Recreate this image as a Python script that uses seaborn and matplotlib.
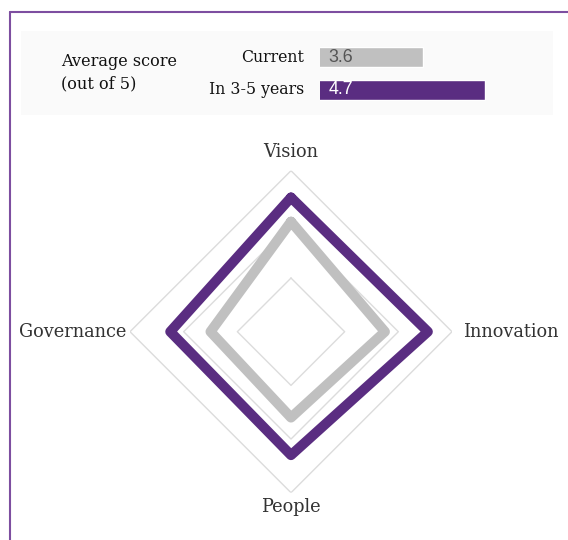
import numpy as np
import pandas as pd
import matplotlib
matplotlib.use("Agg")
import matplotlib.pyplot as plt
from matplotlib.lines import Line2D
from matplotlib.patches import Rectangle
import matplotlib.transforms as mtransforms
import seaborn as sns

# ---- data ----
dimensions = ["Vision", "Innovation", "People", "Governance"]
current_scores = [4.05, 3.75, 3.6, 3.5]
future_scores = [4.5, 4.55, 4.3, 4.25]
series_names = ["Current", "In 3-5 years"]
average_scores = [3.6, 4.7]
grid_levels = [3, 4, 5]

PURPLE = "#5a2d81"
GREY = "#c0c0c0"
TEXT = "#333333"

sns.set_theme(style="white")
plt.rcParams["font.family"] = ["DejaVu Serif"]

W, H = 568, 540
fig = plt.figure(figsize=(W / 100, H / 100), dpi=100)
fig.patch.set_facecolor("white")


def fx(px):
    return px / W


def fy(py):
    return 1 - py / H


# frame lines (left and top)
fig.add_artist(Line2D([fx(10), fx(10)], [fy(11.5), 0], color="#7d4ea0", lw=1.5))
fig.add_artist(Line2D([fx(10), 1], [fy(11.5), fy(11.5)], color="#7d4ea0", lw=1.5))

# light summary panel
fig.add_artist(Rectangle((fx(21), fy(115)), fx(553) - fx(21), fy(31) - fy(115),
                         transform=fig.transFigure, facecolor="#fafafa",
                         edgecolor="none", zorder=0))

fig.text(fx(61), fy(62), "Average score", ha="left", va="center",
         fontsize=11.6, color="#111111")
fig.text(fx(61), fy(84), "(out of 5)", ha="left", va="center",
         fontsize=11.6, color="#111111")

# ---- average score bars ----
bar_ax = fig.add_axes([fx(320), fy(106.5), fx(540) - fx(320), fy(40.5) - fy(106.5)])
bar_df = pd.DataFrame({"series": series_names, "score": average_scores})
sns.barplot(data=bar_df, x="score", y="series", hue="series",
            palette=[GREY, PURPLE], width=0.6, orient="h", legend=False,
            ax=bar_ax, saturation=1)
bar_ax.set_xlim(1.76, 5.68)
bar_ax.set_ylim(1.5, -0.5)
bar_ax.axis("off")
blend = mtransforms.blended_transform_factory(bar_ax.transAxes, bar_ax.transData)
for i, (name, val) in enumerate(zip(series_names, average_scores)):
    bar_ax.text(0.037, i, f"{val:.1f}", transform=blend, ha="left", va="center",
                fontsize=12.8, family=["Liberation Sans", "DejaVu Sans"],
                color="#555555" if i == 0 else "white")
    fig.text(fx(304), fy(57 + 33 * i), name, ha="right", va="center",
             fontsize=11.3, color="#111111")

# ---- radar ----
ax = fig.add_axes([fx(130), fy(492.7), fx(452) - fx(130), fy(170.7) - fy(492.7)],
                  projection="polar")
ax.set_theta_offset(np.pi / 2)
ax.set_theta_direction(-1)
ax.set_facecolor("none")

angles = np.linspace(0, 2 * np.pi, len(dimensions), endpoint=False)
closed = np.append(angles, angles[0])

for lvl in grid_levels:
    ax.plot(closed, [lvl] * len(closed), color="#dcdcdc", lw=1.0, zorder=1)

rows = []
for name, scores in zip(series_names, [current_scores, future_scores]):
    vals = list(scores) + [scores[0]]
    for t, v in zip(closed, vals):
        rows.append({"theta": t, "score": v, "series": name})
radar_df = pd.DataFrame(rows)

sns.lineplot(data=radar_df, x="theta", y="score", hue="series",
             palette={"Current": GREY, "In 3-5 years": PURPLE},
             sort=False, estimator=None, linewidth=7.2, legend=False,
             solid_joinstyle="round", solid_capstyle="round", ax=ax, zorder=3)

ax.set_ylim(2, 5)
ax.grid(False)
ax.spines["polar"].set_visible(False)
ax.set_xticks([])
ax.set_yticks([])
ax.set_xlabel("")
ax.set_ylabel("")

label_pos = {"Vision": (5.35, "center", "center"),
             "Innovation": (5.2, "left", "center"),
             "People": (5.26, "center", "center"),
             "Governance": (5.06, "right", "center")}
for ang, name in zip(angles, dimensions):
    r, ha, va = label_pos[name]
    ax.text(ang, r, name, ha=ha, va=va, fontsize=12.8, color=TEXT, clip_on=False)

fig.savefig("out.png", dpi=100, facecolor="white")
